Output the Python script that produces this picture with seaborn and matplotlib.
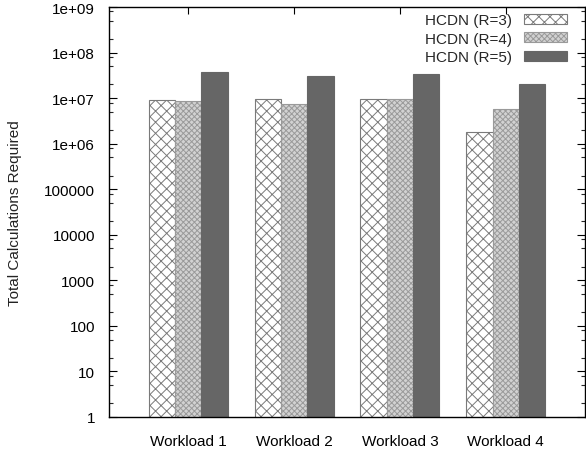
import matplotlib
matplotlib.use("Agg")
import matplotlib.pyplot as plt
from matplotlib.ticker import LogLocator, FixedLocator, FixedFormatter, NullFormatter
from matplotlib.patches import Patch
import numpy as np
import pandas as pd
import seaborn as sns

# Workloads and total calculation counts per replication factor
workloads = ["Workload 1", "Workload 2", "Workload 3", "Workload 4"]
series_names = ["HCDN (R=3)", "HCDN (R=4)", "HCDN (R=5)"]
calc_r3 = [8.9e6, 9.4e6, 9.8e6, 1.76e6]
calc_r4 = [8.5e6, 7.3e6, 9.4e6, 5.7e6]
calc_r5 = [3.8e7, 3.1e7, 3.4e7, 2.0e7]

y_tick_values = [1, 10, 100, 1000, 10000, 100000, 1e6, 1e7, 1e8, 1e9]
y_tick_labels = ["1", "10", "100", "1000", "10000", "100000",
                 "1e+06", "1e+07", "1e+08", "1e+09"]

df = pd.DataFrame({
    "workload": workloads * 3,
    "series": np.repeat(series_names, len(workloads)),
    "calcs": calc_r3 + calc_r4 + calc_r5,
})

sns.set_theme(style="white")
plt.rcParams["font.family"] = ["Liberation Sans", "DejaVu Sans"]
plt.rcParams["hatch.linewidth"] = 0.7

fig = plt.figure(figsize=(5.86, 4.52), dpi=100)
ax = fig.add_axes([109 / 586, 34 / 452, 476 / 586, 410 / 452])

face = {"HCDN (R=3)": "white", "HCDN (R=4)": "#d2d2d2", "HCDN (R=5)": "#666666"}
hatch = {"HCDN (R=3)": "xxx", "HCDN (R=4)": "xxxxxx", "HCDN (R=5)": None}
hatch_col = {"HCDN (R=3)": "#7a7a7a", "HCDN (R=4)": "#9a9a9a", "HCDN (R=5)": "#666666"}

sns.barplot(data=df, x="workload", y="calcs", hue="series", order=workloads,
            hue_order=series_names, palette=face, width=0.745, ax=ax,
            log_scale=(False, True), legend=False, saturation=1)

for cont, name in zip(ax.containers, series_names):
    for bar in cont:
        bar.set_facecolor(face[name])
        bar.set_edgecolor(hatch_col[name])
        bar.set_linewidth(0.8)
        if hatch[name]:
            bar.set_hatch(hatch[name])

ax.set_yscale("log")
ax.set_ylim(1, 1e9)
ax.set_xlim(-0.75, 3.75)

ax.yaxis.set_major_locator(FixedLocator(y_tick_values))
ax.yaxis.set_major_formatter(FixedFormatter(y_tick_labels))
ax.yaxis.set_minor_locator(LogLocator(base=10, subs=(2, 5, 8), numticks=50))
ax.yaxis.set_minor_formatter(NullFormatter())

ax.tick_params(axis="y", which="major", direction="in", length=6, width=0.8,
               left=True, right=True, labelsize=11, pad=10, colors="black")
ax.tick_params(axis="y", which="minor", direction="in", length=3, width=0.8,
               left=True, right=True)
ax.tick_params(axis="x", which="major", direction="in", length=5, width=0.8,
               bottom=False, top=True, labelsize=11, pad=12, colors="black")

for s in ax.spines.values():
    s.set_visible(True)
    s.set_color("black")
    s.set_linewidth(1.0)

ax.set_xlabel("")
ax.set_ylabel("Total Calculations Required", fontsize=11, color="#222222")
ax.yaxis.set_label_coords(-0.183, 0.5)

handles = [Patch(facecolor=face[n], edgecolor=hatch_col[n], hatch=hatch[n],
                 linewidth=0.8) for n in series_names]
ax.legend(handles, series_names, loc="upper right",
          bbox_to_anchor=(0.962, 0.985), frameon=False, markerfirst=False,
          fontsize=11, handlelength=2.8, handleheight=0.6, labelspacing=0.3,
          borderpad=0, borderaxespad=0, handletextpad=0.8)

fig.savefig("out.png", dpi=100)
